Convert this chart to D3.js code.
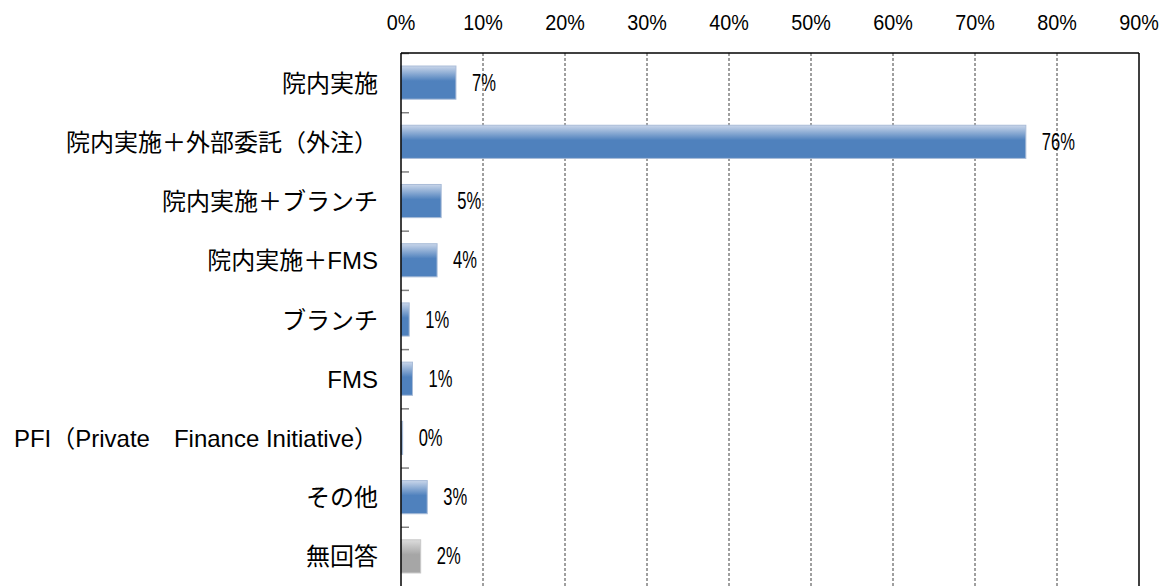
<!DOCTYPE html>
<html>
<head>
<meta charset="utf-8">
<script src="https://d3js.org/d3.v7.min.js"></script>
<style>
  body { margin: 0; background: #fff; }
  svg { display: block; }
</style>
</head>
<body>
<script>
const categories = ['院内実施', '院内実施＋外部委託（外注）', '院内実施＋ブランチ', '院内実施＋FMS',
  'ブランチ', 'FMS', 'PFI（Private　Finance Initiative）', 'その他', '無回答'];
const values = [6.7, 76.2, 4.9, 4.4, 1.0, 1.4, 0.2, 3.2, 2.4];
const labels = ['7%', '76%', '5%', '4%', '1%', '1%', '0%', '3%', '2%'];
const grayBars = ['無回答'];
const ticks = [0, 10, 20, 30, 40, 50, 60, 70, 80, 90];

const width = 1167, height = 586;
const margin = {top: 53, right: 28, bottom: 0, left: 401};

const svg = d3.select('body').append('svg')
  .attr('width', width)
  .attr('height', height);

const defs = svg.append('defs');
function grad(id, light, dark) {
  const g = defs.append('linearGradient').attr('id', id)
    .attr('x1', 0).attr('y1', 0).attr('x2', 0).attr('y2', 1);
  g.append('stop').attr('offset', '0%').attr('stop-color', light);
  g.append('stop').attr('offset', '45%').attr('stop-color', dark);
  g.append('stop').attr('offset', '100%').attr('stop-color', dark);
}
grad('blueGrad', '#c9d6ea', '#4f81bd');
grad('grayGrad', '#dcdcdc', '#a6a6a6');

const x = d3.scaleLinear()
  .domain([0, 90])
  .range([margin.left, width - margin.right]);

const y = d3.scaleBand()
  .domain(categories)
  .range([margin.top, height - margin.bottom])
  .paddingInner(0.44)
  .paddingOuter(0.22);

// dashed gridlines
svg.append('g')
  .selectAll('line')
  .data(ticks.slice(1, -1))
  .join('line')
  .attr('x1', d => x(d)).attr('x2', d => x(d))
  .attr('y1', margin.top).attr('y2', height)
  .attr('stroke', '#404040')
  .attr('stroke-width', 1)
  .attr('stroke-dasharray', '3,2');

// top axis labels (narrowed a little, like the original gothic digits)
svg.append('g')
  .selectAll('text')
  .data(ticks)
  .join('text')
  .attr('transform', d => `translate(${x(d)},30) scale(0.9,1)`)
  .attr('text-anchor', 'middle')
  .attr('font-family', 'Liberation Sans, Arial, sans-serif')
  .attr('font-size', 22)
  .attr('fill', '#000')
  .text(d => d + '%');

// inward ticks on category axis
const step = y.step();
svg.append('g')
  .selectAll('line')
  .data(d3.range(categories.length))
  .join('line')
  .attr('x1', margin.left).attr('x2', margin.left + 8)
  .attr('y1', i => margin.top + i * step + 0.5)
  .attr('y2', i => margin.top + i * step + 0.5)
  .attr('stroke', '#808080')
  .attr('stroke-width', 1.5);

// bars
svg.append('g')
  .selectAll('rect')
  .data(categories)
  .join('rect')
  .attr('x', x(0))
  .attr('y', d => y(d))
  .attr('width', (d, i) => x(values[i]) - x(0))
  .attr('height', y.bandwidth())
  .attr('fill', d => grayBars.includes(d) ? 'url(#grayGrad)' : 'url(#blueGrad)')
  .attr('stroke', d => grayBars.includes(d) ? '#c8c8c8' : '#a9bcd8')
  .attr('stroke-width', 1);

// data labels, condensed
svg.append('g')
  .selectAll('text')
  .data(categories)
  .join('text')
  .attr('transform', (d, i) => `translate(${x(values[i]) + 16},${y(d) + y.bandwidth() / 2 + 8}) scale(0.72,1)`)
  .attr('font-family', 'Liberation Sans, Arial, sans-serif')
  .attr('font-size', 23)
  .attr('fill', '#000')
  .text((d, i) => labels[i]);

// category labels: latin from Liberation Sans, kana/kanji from Noto CJK
svg.append('g')
  .selectAll('text')
  .data(categories)
  .join('text')
  .attr('x', 378)
  .attr('y', d => y(d) + y.bandwidth() / 2 + 9)
  .attr('text-anchor', 'end')
  .attr('font-family', 'Liberation Sans, Noto Sans CJK JP, sans-serif')
  .attr('font-size', 24)
  .attr('fill', '#000')
  .text(d => d)
  .each(function () {
    // keep the long label inside the page
    const w = this.getComputedTextLength();
    if (w > 366) d3.select(this).attr('textLength', 366).attr('lengthAdjust', 'spacingAndGlyphs');
  });

// plot frame: left axis, top and right border
const frame = svg.append('g')
  .attr('fill', 'none')
  .attr('stroke', '#000')
  .attr('stroke-width', 1.5);
frame.append('line')
  .attr('x1', x(0)).attr('x2', x(0))
  .attr('y1', margin.top).attr('y2', height);
frame.append('line')
  .attr('x1', x(0)).attr('x2', x(90))
  .attr('y1', margin.top).attr('y2', margin.top);
frame.append('line')
  .attr('x1', x(90)).attr('x2', x(90))
  .attr('y1', margin.top).attr('y2', height);
</script>
</body>
</html>
